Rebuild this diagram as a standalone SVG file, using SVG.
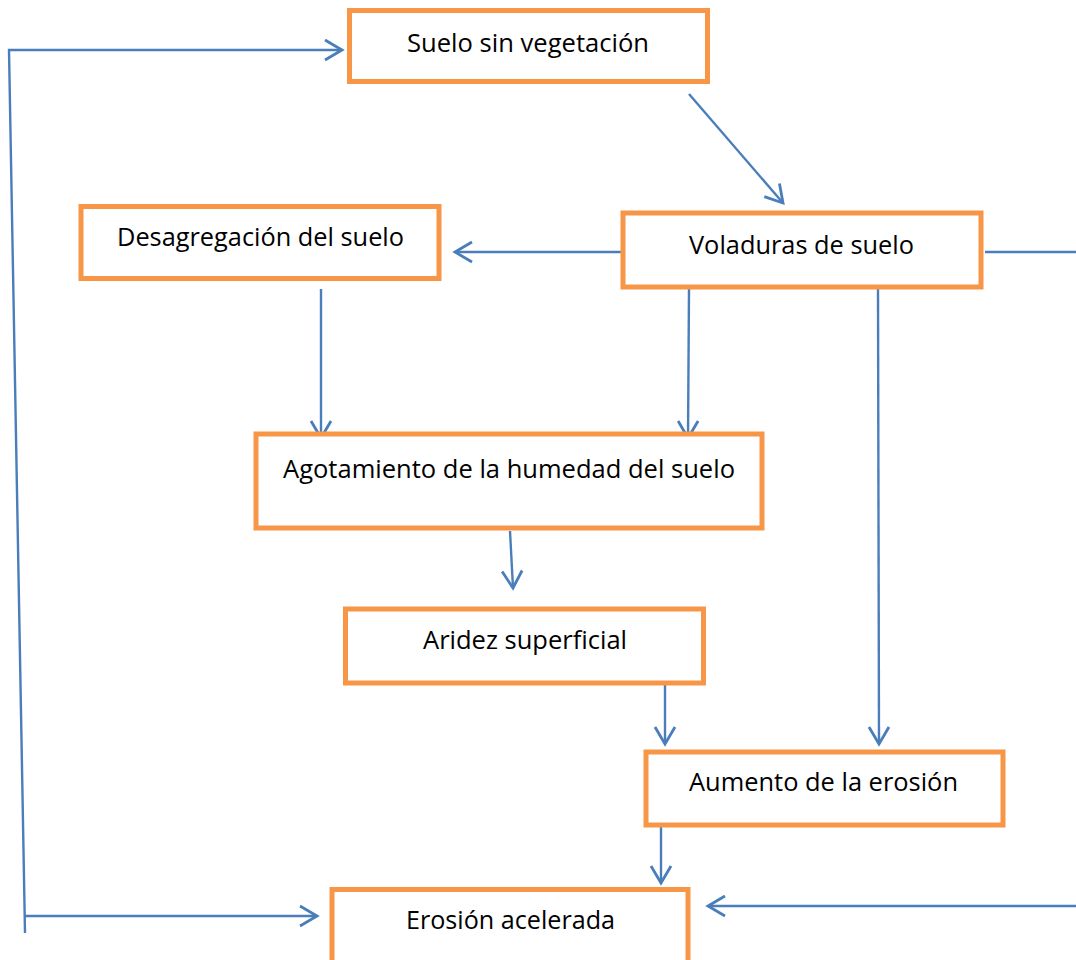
<svg xmlns="http://www.w3.org/2000/svg" width="1076" height="960" viewBox="0 0 1076 960">
<style>
.box{fill:#ffffff;stroke:#F79646;stroke-width:5}
.lbl{font-family:"Open Sans","Noto Sans","Liberation Sans",sans-serif;font-size:26px;fill:#000000}
.ln{fill:none;stroke:#4A7EBB;stroke-width:2.4}
.arr{marker-end:url(#ah)}
</style>
<defs>
<marker id="ah" markerUnits="userSpaceOnUse" markerWidth="40" markerHeight="40" viewBox="-20 -20 40 40" refX="0" refY="0" orient="auto">
<path d="M -17 -10 L 0 0 L -17 10" fill="none" stroke="#4A7EBB" stroke-width="2.8"/>
</marker>
</defs>
<rect width="1076" height="960" fill="#ffffff"/>
<g id="connectors">
<polyline class="ln arr" points="25,933 9,50 342,50"/>
<line class="ln arr" x1="25" y1="916" x2="317" y2="916"/>
<line class="ln arr" x1="689" y1="94" x2="783" y2="203"/>
<line class="ln arr" x1="622" y1="252" x2="455" y2="252"/>
<line class="ln" x1="985" y1="252" x2="1076" y2="252"/>
<line class="ln arr" x1="321" y1="289" x2="321" y2="438"/>
<line class="ln arr" x1="689" y1="289" x2="688" y2="438"/>
<line class="ln arr" x1="878" y1="289" x2="879" y2="744"/>
<line class="ln arr" x1="510" y1="531" x2="513" y2="588"/>
<line class="ln arr" x1="665" y1="685" x2="665" y2="744"/>
<line class="ln arr" x1="661" y1="827" x2="661" y2="883"/>
<line class="ln arr" x1="1076" y1="906" x2="708" y2="906"/>
</g>
<g id="suelo-sin-vegetacion">
<rect class="box" x="349.5" y="10.5" width="358" height="71"/>
<text class="lbl" x="407" y="52" textLength="242" lengthAdjust="spacingAndGlyphs">Suelo sin vegetación</text>
</g>
<g id="desagregacion">
<rect class="box" x="81" y="206.5" width="358" height="72"/>
<text class="lbl" x="117" y="246" textLength="287" lengthAdjust="spacingAndGlyphs">Desagregación del suelo</text>
</g>
<g id="voladuras">
<rect class="box" x="623" y="213" width="358" height="74"/>
<text class="lbl" x="689" y="254" textLength="225" lengthAdjust="spacingAndGlyphs">Voladuras de suelo</text>
</g>
<g id="agotamiento">
<rect class="box" x="256" y="434" width="506" height="94"/>
<text class="lbl" x="283" y="478" textLength="452" lengthAdjust="spacingAndGlyphs">Agotamiento de la humedad del suelo</text>
</g>
<g id="aridez">
<rect class="box" x="345.5" y="609" width="358" height="74"/>
<text class="lbl" x="423" y="649" textLength="204" lengthAdjust="spacingAndGlyphs">Aridez superficial</text>
</g>
<g id="aumento">
<rect class="box" x="646" y="752" width="357" height="73"/>
<text class="lbl" x="689" y="791" textLength="269" lengthAdjust="spacingAndGlyphs">Aumento de la erosión</text>
</g>
<g id="erosion-acelerada">
<rect class="box" x="332" y="889.5" width="356" height="80"/>
<text class="lbl" x="406" y="929" textLength="209" lengthAdjust="spacingAndGlyphs">Erosión acelerada</text>
</g>
</svg>
